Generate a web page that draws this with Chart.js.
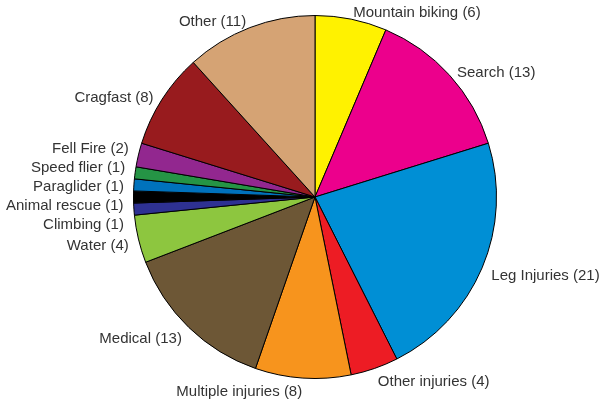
<!DOCTYPE html>
<html>
<head>
<meta charset="utf-8">
<script src="https://cdn.jsdelivr.net/npm/chart.js@4/dist/chart.umd.min.js"></script>
<style>
  html, body { margin: 0; padding: 0; background: #fff; }
  #wrap { width: 604px; height: 404px; }
</style>
</head>
<body>
<div id="wrap"><canvas id="pie" width="604" height="404"></canvas></div>
<script>
// ── DATA ───────────────────────────────────────
const categories = [
  'Mountain biking', 'Search', 'Leg Injuries', 'Other injuries', 'Multiple injuries',
  'Medical', 'Water', 'Climbing', 'Animal rescue', 'Paraglider',
  'Speed flier', 'Fell Fire', 'Cragfast', 'Other'
];
const counts = [6, 13, 21, 4, 8, 13, 4, 1, 1, 1, 1, 2, 8, 11];
const colours = [
  '#FFF200', '#EC008C', '#008FD5', '#ED1C24', '#F7941D',
  '#6D5736', '#8DC63F', '#2E3192', '#000000', '#0072BC',
  '#259445', '#92278F', '#981B1E', '#D5A374'
];

// ── LABELS OUTSIDE THE PIE ─────────────────────
const outsideLabels = {
  id: 'outsideLabels',
  afterDraw(chart) {
    const ctx = chart.ctx;
    const arcs = chart.getDatasetMeta(0).data;
    ctx.save();
    ctx.font = '15px "Liberation Sans", Arial, sans-serif';
    ctx.fillStyle = '#333333';
    ctx.textBaseline = 'middle';

    const items = arcs.map((arc, i) => {
      const mid = (arc.startAngle + arc.endAngle) / 2;
      const r = arc.outerRadius + 10;
      const x = arc.x + Math.cos(mid) * r;
      const y = arc.y + Math.sin(mid) * r + 4;
      return { text: `${categories[i]} (${counts[i]})`, x, y, left: x < arc.x };
    });

    // spread labels on each side so they don't collide
    const gap = 19;
    [true, false].forEach(side => {
      const grp = items.filter(it => it.left === side).sort((a, b) => a.y - b.y);
      let moved = true, guard = 0;
      while (moved && guard++ < 200) {
        moved = false;
        for (let k = 1; k < grp.length; k++) {
          const d = grp[k].y - grp[k - 1].y;
          if (d < gap) {
            const push = (gap - d) / 2;
            grp[k - 1].y -= push;
            grp[k].y += push;
            moved = true;
          }
        }
      }
    });

    items.forEach(it => {
      ctx.textAlign = it.left ? 'right' : 'left';
      ctx.fillText(it.text, it.x, it.y);
    });
    ctx.restore();
  }
};

new Chart(document.getElementById('pie'), {
  type: 'pie',
  data: {
    labels: categories,
    datasets: [{
      data: counts,
      backgroundColor: colours,
      borderColor: '#000000',
      borderWidth: 1
    }]
  },
  options: {
    responsive: false,
    animation: false,
    layout: { padding: { top: 15, bottom: 25, left: 133, right: 107 } },
    plugins: {
      legend: { display: false },
      tooltip: { enabled: false }
    }
  },
  plugins: [outsideLabels]
});
</script>
</body>
</html>
